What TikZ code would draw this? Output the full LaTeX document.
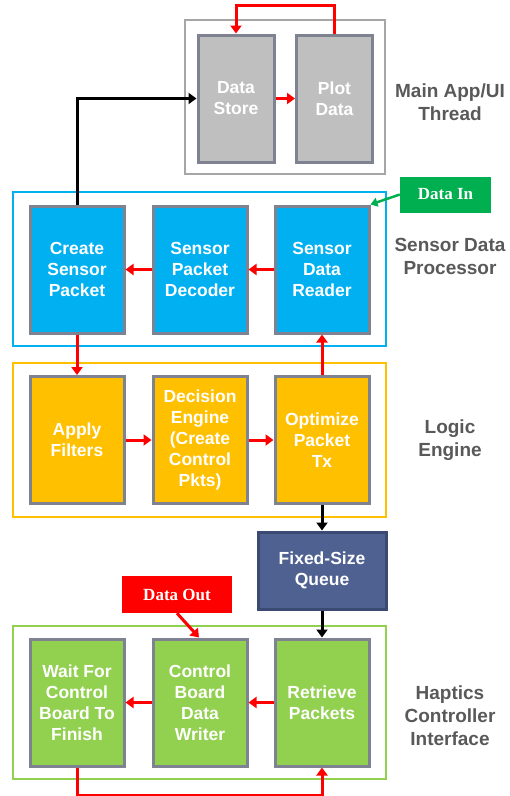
\documentclass[tikz,border=0pt]{standalone}
\usepackage{fontspec}
\setmainfont{Liberation Sans}
\newfontfamily\serifb{Liberation Serif}
\usetikzlibrary{arrows.meta}
\definecolor{cblue}{HTML}{00B0F0}
\definecolor{cyel}{HTML}{FFC000}
\definecolor{cgrn}{HTML}{92D050}
\definecolor{cgray}{HTML}{BFBFBF}
\definecolor{cbord}{HTML}{7F8290}
\definecolor{couter}{HTML}{A6A6A6}
\definecolor{cqueue}{HTML}{4F6190}
\definecolor{cqbord}{HTML}{3B4A72}
\definecolor{clabel}{HTML}{595959}
\definecolor{cin}{HTML}{00B050}
\definecolor{cred}{HTML}{FF0000}
\begin{document}
\begin{tikzpicture}[x=1pt,y=-1pt,
  blk/.style={draw=cbord, line width=3pt, minimum width=94pt, minimum height=127pt, inner sep=0pt, align=center, text=white, font=\fontsize{17.5}{21}\selectfont\bfseries},
  outer/.style={line width=2.5pt, minimum width=373pt, minimum height=154pt, inner sep=0pt},
  lbl/.style={align=center, text=clabel, font=\fontsize{19}{23}\selectfont\bfseries},
  tag/.style={inner sep=0pt, text=white, font=\serifb\fontsize{17}{20}\selectfont\bfseries},
  rarr/.style={cred, line width=3pt, -{Triangle[length=8pt,width=11pt]}},
  barr/.style={black, line width=3pt, -{Triangle[length=8pt,width=11pt]}}]
\useasboundingbox (0,0) rectangle (510,796);

% Main App/UI Thread
\node[draw=couter, line width=2.5pt, minimum width=200pt, minimum height=154pt] (mainbox) at (285,97) {};
\node[blk, fill=cgray, minimum width=76pt] (store) at (236,98.5) {Data\\Store};
\node[blk, fill=cgray, minimum width=76pt] (plot) at (334.5,98.5) {Plot\\Data};
\node[lbl] (mainlbl) at (450,102) {Main App/UI\\Thread};

% Sensor Data Processor
\node[outer, draw=cblue] (sensbox) at (199.5,269) {};
\node[blk, fill=cblue] (create) at (77,269.5) {Create\\Sensor\\Packet};
\node[blk, fill=cblue] (decoder) at (200,269.5) {Sensor\\Packet\\Decoder};
\node[blk, fill=cblue] (reader) at (322,269.5) {Sensor\\Data\\Reader};
\node[lbl] (senslbl) at (450,256) {Sensor Data\\Processor};
\node[tag, fill=cin, minimum width=91pt, minimum height=36pt] (datain) at (445.5,194.5) {Data In};

% Logic Engine
\node[outer, draw=cyel] (logicbox) at (199.5,440) {};
\node[blk, fill=cyel] (apply) at (77,440) {Apply\\Filters};
\node[blk, fill=cyel] (decision) at (200,440) {Decision\\Engine\\(Create\\Control\\Pkts)};
\node[blk, fill=cyel] (optim) at (322,440) {Optimize\\Packet\\Tx};
\node[lbl] (logiclbl) at (450,440) {Logic\\Engine};

% Queue
\node[draw=cqbord, fill=cqueue, line width=3pt, minimum width=128pt, minimum height=77pt, align=center, text=white, font=\fontsize{17.5}{21}\selectfont\bfseries] (queue) at (322,570.5) {Fixed-Size\\Queue};

% Haptics Controller Interface
\node[outer, draw=cgrn, minimum height=153pt] (hapbox) at (199.5,702.5) {};
\node[blk, fill=cgrn] (wait) at (77,702.5) {Wait For\\Control\\Board To\\Finish};
\node[blk, fill=cgrn] (writer) at (200,702.5) {Control\\Board\\Data\\Writer};
\node[blk, fill=cgrn] (retrieve) at (322,702.5) {Retrieve\\Packets};
\node[lbl] (haplbl) at (450,716) {Haptics\\Controller\\Interface};
\node[tag, fill=cred, minimum width=110pt, minimum height=37pt] (dataout) at (177,594.5) {Data Out};

% Connectors
\draw[rarr] (store.east) -- (plot.west);
\draw[rarr] (plot.north) -- ++(0,-28) -| (store.north);
\draw[barr] (create.north) |- (store.west);
\draw[rarr] (reader.west) -- (decoder.east);
\draw[rarr] (decoder.west) -- (create.east);
\draw[rarr] (create.south) -- (apply.north);
\draw[rarr] (optim.north) -- (reader.south);
\draw[rarr] (apply.east) -- (decision.west);
\draw[rarr] (decision.east) -- (optim.west);
\draw[barr] (optim.south) -- (queue.north);
\draw[barr] (queue.south) -- (retrieve.north);
\draw[rarr] (retrieve.west) -- (writer.east);
\draw[rarr] (writer.west) -- (wait.east);
\draw[rarr] (wait.south) -- ++(0,28) -| (retrieve.south);
\draw[cin, line width=2.5pt, -{Triangle[length=7pt,width=9pt]}] (datain.west) -- (reader.north east);
\draw[rarr] (dataout.south) -- ([xshift=-1pt]writer.north);
\end{tikzpicture}
\end{document}
